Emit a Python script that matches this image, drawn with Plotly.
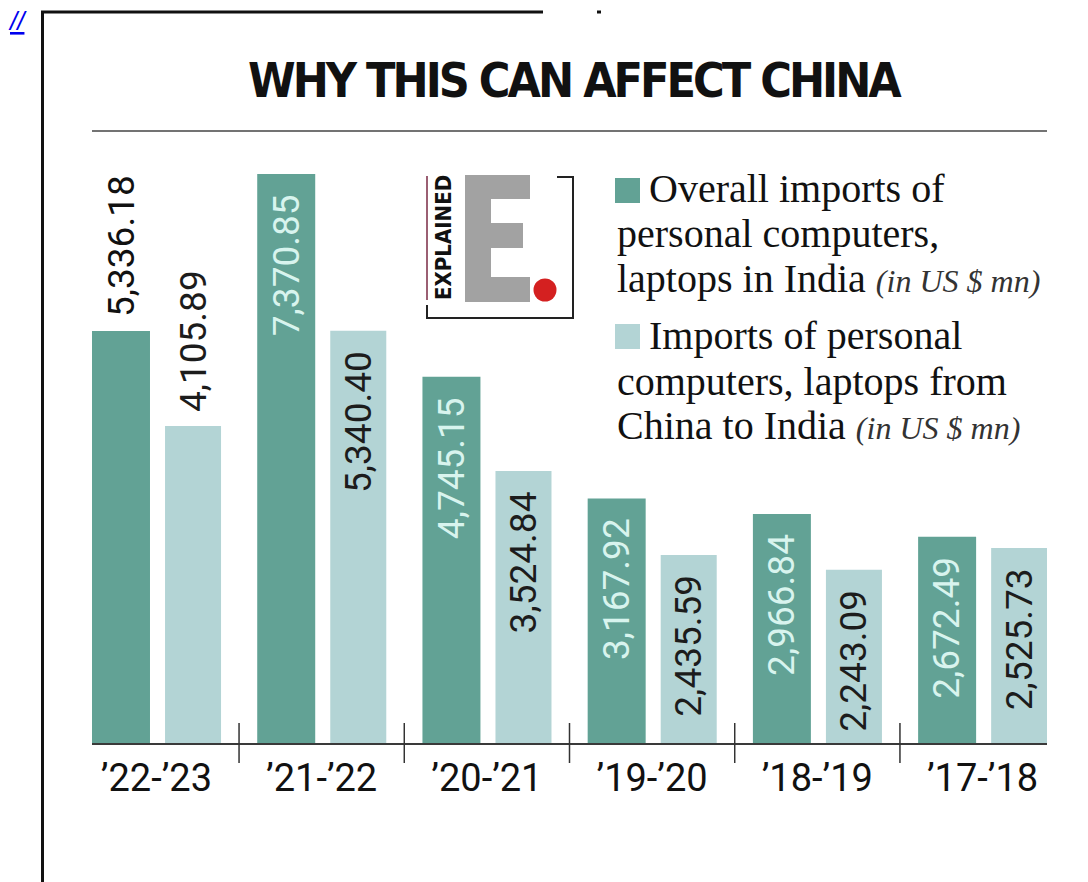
import plotly.graph_objects as go

# ---- data ----
periods = ["’22-’23", "’21-’22", "’20-’21", "’19-’20", "’18-’19", "’17-’18"]
overall_imports = [5336.18, 7370.85, 4745.15, 3167.92, 2966.84, 2672.49]
china_imports = [4105.89, 5340.40, 3524.84, 2435.59, 2243.09, 2525.73]
overall_label_inside = [False, True, True, True, True, True]
china_label_inside = [False, True, True, True, True, True]

title_text = "WHY THIS CAN AFFECT CHINA"
legend_overall = ["Overall imports of", "personal computers,", "laptops in India"]
legend_china = ["Imports of personal", "computers, laptops from", "China to India"]
unit_text = "(in US $ mn)"

# ---- style / layout constants ----
W, H = 1088, 882
L, R, T, B = 92, 41, 0, 139
PW, PH = W - L - R, H - T - B
YMAX = 9625
DARK = "#62a295"
LIGHT = "#b3d4d5"
D_OFF, D_W = -0.39, 0.351
L_OFF, L_W = 0.052, 0.339


def px(x):
    return (x - L) / PW


def py(y):
    return (H - B - y) / PH


xs = list(range(len(periods)))

fig = go.Figure()
fig.add_trace(go.Bar(x=xs, y=overall_imports, offset=D_OFF, width=D_W,
                     marker=dict(color=DARK, line=dict(width=0)),
                     hoverinfo="skip", showlegend=False))
fig.add_trace(go.Bar(x=xs, y=china_imports, offset=L_OFF, width=L_W,
                     marker=dict(color=LIGHT, line=dict(width=0)),
                     hoverinfo="skip", showlegend=False))

ann = []
shapes = []
VAL_FONT = "Roboto"
for i, (v, inside) in enumerate(zip(overall_imports, overall_label_inside)):
    ann.append(dict(x=i + D_OFF + D_W / 2, y=v, xref="x", yref="y",
                    text=f"{v:,.2f}", textangle=-90, showarrow=False,
                    xanchor="center", yanchor="top" if inside else "bottom",
                    yshift=-18 if inside else 12,
                    font=dict(family=VAL_FONT, size=37,
                              color="#d8f4ee" if inside else "#111111")))
for i, (v, inside) in enumerate(zip(china_imports, china_label_inside)):
    ann.append(dict(x=i + L_OFF + L_W / 2, y=v, xref="x", yref="y",
                    text=f"{v:,.2f}", textangle=-90, showarrow=False,
                    xanchor="center", yanchor="top" if inside else "bottom",
                    yshift=-18 if inside else 12,
                    font=dict(family=VAL_FONT, size=37, color="#1c1c1c")))

# tick marks between groups
for i in range(len(periods) - 1):
    shapes.append(dict(type="line", xref="x", yref="paper",
                       x0=i + 0.5, x1=i + 0.5, y0=py(723), y1=py(763),
                       line=dict(color="#333333", width=1.5)))

# title + rule
ann.append(dict(x=px(575), y=py(80), xref="paper", yref="paper",
                text="<b><span style='letter-spacing:-3px'>" + title_text + "</span></b>",
                showarrow=False, xanchor="center", yanchor="middle",
                font=dict(family="Liberation Sans Narrow, DejaVu Sans Condensed, sans-serif",
                          size=48, color="#111111")))
shapes.append(dict(type="line", xref="paper", yref="paper",
                   x0=px(92), x1=px(1047), y0=py(131), y1=py(131),
                   line=dict(color="#444444", width=1.5)))

# frame
shapes.append(dict(type="line", xref="paper", yref="paper",
                   x0=px(42.5), x1=px(42.5), y0=py(11), y1=py(882),
                   line=dict(color="#111111", width=3)))
shapes.append(dict(type="line", xref="paper", yref="paper",
                   x0=px(41), x1=px(543), y0=py(12), y1=py(12),
                   line=dict(color="#111111", width=3)))
shapes.append(dict(type="line", xref="paper", yref="paper",
                   x0=px(597), x1=px(601), y0=py(12), y1=py(12),
                   line=dict(color="#111111", width=3)))
ann.append(dict(x=px(6), y=py(21), xref="paper", yref="paper",
                text="<u><i>//</i></u>", showarrow=False, xanchor="left", yanchor="middle",
                font=dict(family="Liberation Sans", size=26, color="#0000ee")))

# logo
shapes.append(dict(type="line", xref="paper", yref="paper",
                   x0=px(427), x1=px(427), y0=py(176), y1=py(300),
                   line=dict(color="#7a2a45", width=1.5)))
shapes.append(dict(type="path", xref="paper", yref="paper",
                   path=f"M {px(557)},{py(177)} L {px(573)},{py(177)} L {px(573)},{py(318)} "
                        f"L {px(427)},{py(318)} L {px(427)},{py(305)}",
                   line=dict(color="#222222", width=2)))
for (x0, y0, x1, y1) in [(465, 175, 491, 302), (465, 175, 530, 199),
                         (465, 223, 523, 248), (465, 277, 530, 302)]:
    shapes.append(dict(type="rect", xref="paper", yref="paper",
                       x0=px(x0), x1=px(x1), y0=py(y0), y1=py(y1),
                       fillcolor="#a2a2a2", line=dict(width=0)))
shapes.append(dict(type="circle", xref="paper", yref="paper",
                   x0=px(533.5), x1=px(556.5), y0=py(278.5), y1=py(301.5),
                   fillcolor="#d42020", line=dict(width=0)))
ann.append(dict(x=px(443), y=py(238), xref="paper", yref="paper",
                text="<b>EXPLAINED</b>", textangle=-90, showarrow=False,
                xanchor="center", yanchor="middle",
                font=dict(family="DejaVu Sans Condensed, sans-serif", size=22, color="#111111")))

# legend
SERIF = "Liberation Serif, serif"
shapes.append(dict(type="rect", xref="paper", yref="paper",
                   x0=px(615), x1=px(640), y0=py(178), y1=py(203),
                   fillcolor=DARK, line=dict(width=0)))
shapes.append(dict(type="rect", xref="paper", yref="paper",
                   x0=px(615), x1=px(640), y0=py(324), y1=py(349),
                   fillcolor=LIGHT, line=dict(width=0)))
unit_html = f" <span style='font-size:32px;color:#333333'><i>{unit_text}</i></span>"
legend_lines = [
    (647, 203, legend_overall[0]),
    (615, 248, legend_overall[1]),
    (615, 293, legend_overall[2] + unit_html),
    (647, 350, legend_china[0]),
    (615, 396, legend_china[1]),
    (615, 440, legend_china[2] + unit_html),
]
for (x, base, txt) in legend_lines:
    ann.append(dict(x=px(x), y=py(base + 10), xref="paper", yref="paper",
                    text=txt, showarrow=False, xanchor="left", yanchor="bottom",
                    font=dict(family=SERIF, size=40, color="#111111")))

fig.update_layout(
    width=W, height=H,
    margin=dict(l=L, r=R, t=T, b=B, pad=0),
    paper_bgcolor="white", plot_bgcolor="white",
    barmode="overlay",
    showlegend=False,
    xaxis=dict(range=[-0.39, 5.39], tickmode="array", tickvals=xs, ticktext=periods,
               tickfont=dict(family="Roboto", size=38, color="#111111"),
               showline=True, linecolor="#3a3a3a", linewidth=2,
               showgrid=False, zeroline=False, ticks="", fixedrange=True),
    yaxis=dict(range=[0, YMAX], visible=False, fixedrange=True),
    annotations=ann,
    shapes=shapes,
)

fig.write_html("out.html",
               config={"displayModeBar": False},
               post_script="document.body.style.margin='0';document.body.style.overflow='hidden';")
